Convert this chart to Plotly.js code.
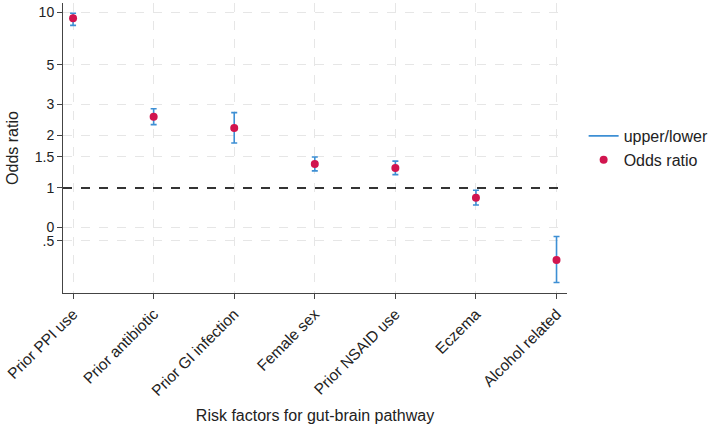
<!DOCTYPE html>
<html>
<head>
<meta charset="utf-8">
<script src="https://cdn.plot.ly/plotly-3.0.1.min.js"></script>
<style>
  html, body { margin: 0; padding: 0; background: #fff; }
  #chart { width: 709px; height: 424px; }
</style>
</head>
<body>
<div id="chart"></div>
<script>
// Risk factors and their odds ratios with confidence limits
const factors = ["Prior PPI use", "Prior antibiotic", "Prior GI infection", "Female sex",
                 "Prior NSAID use", "Eczema", "Alcohol related"];
const oddsRatio = [9.2, 2.54, 2.19, 1.37, 1.30, 0.88, 0.39];
const upperCI   = [9.83, 2.82, 2.68, 1.50, 1.42, 0.97, 0.53];
const lowerCI   = [8.4, 2.29, 1.80, 1.25, 1.19, 0.80, 0.29];

// y-axis ticks (log scale) and their printed labels
const yTickVals = [0.5, 0.6, 1, 1.5, 2, 3, 5, 10];
const yTickText = [".5", "0", "1", "1.5", "2", "3", "5", "10"];

// reference line at no effect
const nullValue = 1;

const xIdx = factors.map((_, i) => i);
const errPlus = upperCI.map((u, i) => u - oddsRatio[i]);
const errMinus = lowerCI.map((l, i) => oddsRatio[i] - l);

const ciColor = "#3d8fd4";
const orColor = "#d1154f";
const font = "Liberation Sans, Arial, Helvetica, sans-serif";

const traces = [
  {
    // confidence interval bars
    x: xIdx, y: oddsRatio,
    type: "scatter", mode: "markers",
    marker: { size: 1, opacity: 0 },
    error_y: { type: "data", symmetric: false, array: errPlus, arrayminus: errMinus,
               color: ciColor, thickness: 1.6, width: 3 },
    showlegend: false, hoverinfo: "skip"
  },
  {
    // legend entry for the interval bars
    x: [null], y: [null],
    type: "scatter", mode: "lines",
    name: "upper/lower",
    line: { color: ciColor, width: 1.6 }
  },
  {
    x: xIdx, y: oddsRatio,
    type: "scatter", mode: "markers",
    name: "Odds ratio",
    marker: { color: orColor, size: 8 }
  }
];

const layout = {
  width: 709, height: 424,
  margin: { l: 63, r: 142, t: 3, b: 131, autoexpand: false },
  paper_bgcolor: "#fff", plot_bgcolor: "#fff",
  font: { family: font, size: 14, color: "#222" },
  showlegend: true,
  legend: {
    x: 1.033, xanchor: "left", y: 0.5, yanchor: "middle",
    font: { family: font, size: 16, color: "#222" },
    bgcolor: "rgba(0,0,0,0)", tracegroupgap: 0
  },
  xaxis: {
    range: [-0.125, 6.13],
    tickmode: "array", tickvals: xIdx, ticktext: factors,
    tickangle: -45,
    ticks: "outside", ticklen: 5, tickcolor: "#444", tickwidth: 1,
    showline: true, linecolor: "#444", linewidth: 1,
    showgrid: true, gridcolor: "#e6e6e6", griddash: "dash", gridwidth: 1,
    zeroline: false,
    tickfont: { family: font, size: 15.5, color: "#222" },
    title: { text: "Risk factors for gut-brain pathway", standoff: 12,
             font: { family: font, size: 16, color: "#222" } }
  },
  yaxis: {
    type: "log",
    range: [Math.log10(0.253), Math.log10(11.25)],
    tickmode: "array", tickvals: yTickVals, ticktext: yTickText,
    ticks: "outside", ticklen: 5, tickcolor: "#444", tickwidth: 1,
    showline: true, linecolor: "#444", linewidth: 1,
    showgrid: true, gridcolor: "#e6e6e6", griddash: "dash", gridwidth: 1,
    zeroline: false,
    tickfont: { family: font, size: 14, color: "#222" },
    title: { text: "Odds ratio", standoff: 12,
             font: { family: font, size: 16, color: "#222" } }
  },
  shapes: [
    {
      type: "line", xref: "paper", yref: "y",
      x0: 0, x1: 1, y0: nullValue, y1: nullValue,
      line: { color: "#333", width: 2, dash: "dash" }
    }
  ]
};

Plotly.newPlot("chart", traces, layout, { displayModeBar: false, staticPlot: true });
</script>
</body>
</html>
